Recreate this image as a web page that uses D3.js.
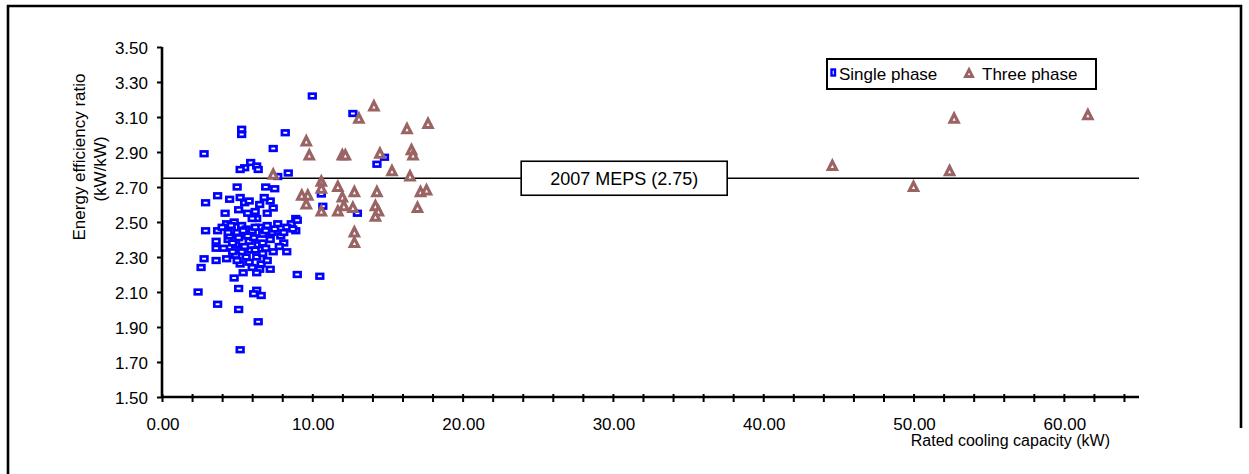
<!DOCTYPE html>
<html>
<head>
<meta charset="utf-8">
<script src="https://cdn.jsdelivr.net/npm/d3@7/dist/d3.min.js"></script>
<style>
  html, body { margin: 0; padding: 0; background: #fff; }
  svg { display: block; }
  text { font-family: "Liberation Sans", Arial, sans-serif; fill: #000; }
</style>
</head>
<body>
<svg id="chart" width="1249" height="474"></svg>
<script>
// Rated cooling capacity (kW) and EER (kW/kW) for single-phase units
const singlePhase = [
  [10.0, 3.22], [12.7, 3.12], [5.3, 3.03], [5.3, 3.00], [8.2, 3.01], [7.4, 2.92],
  [2.8, 2.89], [14.8, 2.87], [14.3, 2.83], [5.5, 2.81], [5.9, 2.84], [6.3, 2.82],
  [6.4, 2.80], [5.2, 2.80], [7.7, 2.76], [8.4, 2.78],
  [5.0, 2.70], [6.9, 2.70], [7.5, 2.69], [10.6, 2.66], [10.7, 2.59], [13.0, 2.55],
  [3.7, 2.65], [4.5, 2.63], [2.9, 2.61], [5.2, 2.64], [5.5, 2.61], [5.8, 2.62],
  [6.5, 2.60], [7.4, 2.58], [7.2, 2.62], [6.8, 2.64], [5.1, 2.57], [6.2, 2.56],
  [4.2, 2.55], [8.9, 2.52], [8.6, 2.49],
  [2.9, 2.45], [3.7, 2.45], [4.3, 2.49], [4.8, 2.50], [5.3, 2.48], [6.3, 2.52],
  [7.0, 2.48], [6.5, 2.47], [7.7, 2.49], [8.3, 2.47], [8.9, 2.45], [9.0, 2.51],
  [4.0, 2.47], [4.6, 2.45], [5.0, 2.44], [5.6, 2.46], [6.0, 2.45], [6.7, 2.43],
  [7.3, 2.44], [7.9, 2.42], [8.7, 2.46],
  [3.6, 2.39], [3.6, 2.35], [4.4, 2.40], [4.9, 2.37], [5.3, 2.33], [5.8, 2.39],
  [6.4, 2.37], [6.7, 2.38], [8.1, 2.44], [8.1, 2.38], [8.3, 2.33], [7.8, 2.36],
  [4.5, 2.42], [5.1, 2.41], [6.1, 2.41], [6.9, 2.35], [7.2, 2.40],
  [2.8, 2.29], [2.6, 2.24], [3.6, 2.28], [4.3, 2.29], [4.9, 2.31], [5.2, 2.26],
  [6.3, 2.30], [6.6, 2.26], [7.0, 2.28], [6.7, 2.32], [5.6, 2.30], [4.7, 2.33],
  [5.9, 2.34], [4.1, 2.35],
  [4.6, 2.48], [5.4, 2.45], [5.7, 2.42], [6.2, 2.47], [6.9, 2.45], [7.5, 2.46],
  [4.7, 2.38], [5.5, 2.36], [6.2, 2.34], [7.4, 2.33], [5.0, 2.28], [5.8, 2.27],
  [6.5, 2.23], [4.4, 2.44], [6.0, 2.52], [5.7, 2.55], [7.0, 2.55],
  [5.4, 2.21], [4.8, 2.18], [6.3, 2.21], [9.0, 2.20], [10.5, 2.19], [6.0, 2.24],
  [7.2, 2.23],
  [2.4, 2.10], [5.1, 2.12], [6.3, 2.11], [6.6, 2.08], [6.1, 2.09], [3.7, 2.03],
  [5.1, 2.00], [6.4, 1.93], [5.2, 1.77]
];

// Rated cooling capacity (kW) and EER (kW/kW) for three-phase units
const threePhase = [
  [14.1, 3.16], [13.1, 3.09], [17.7, 3.06], [16.3, 3.03], [9.6, 2.96], [9.8, 2.88],
  [12.0, 2.88], [12.2, 2.88], [14.5, 2.89], [16.6, 2.91], [16.7, 2.88], [15.3, 2.79],
  [16.5, 2.76], [7.4, 2.77], [10.6, 2.73], [10.6, 2.69], [11.7, 2.70], [9.3, 2.65],
  [9.7, 2.65], [12.0, 2.64], [12.8, 2.67], [14.3, 2.67], [17.2, 2.67], [17.6, 2.68],
  [9.6, 2.60], [12.1, 2.59], [10.6, 2.56], [11.7, 2.56], [12.7, 2.58], [14.2, 2.59],
  [14.4, 2.56], [17.0, 2.58], [14.2, 2.53], [12.8, 2.44], [12.8, 2.38],
  [44.6, 2.82], [52.7, 3.09], [61.6, 3.11], [52.4, 2.79], [50.0, 2.70]
];

const yTicks = [1.5, 1.7, 1.9, 2.1, 2.3, 2.5, 2.7, 2.9, 3.1, 3.3, 3.5];
const xLabelTicks = [0, 10, 20, 30, 40, 50, 60];
const xMinorTicks = d3.range(0, 65, 2);

const mepsValue = 2.75;
const mepsLabel = "2007 MEPS (2.75)";
const mepsLabelAt = 30.75;

const seriesNames = ["Single phase", "Three phase"];
const singleColor = "#0000ff";
const threeColor = "#9a6464";

const svg = d3.select("#chart");

// Frame around the chart
svg.append("path")
  .attr("d", "M8,474 L8,6 L1241,6 L1241,428")
  .attr("fill", "none")
  .attr("stroke", "#000")
  .attr("stroke-width", 2.6);

const plot = { left: 162, right: 1139, top: 47, bottom: 397 };

const x = d3.scaleLinear().domain([0, 65]).range([plot.left, plot.right]);
const y = d3.scaleLinear().domain([1.5, 3.5]).range([plot.bottom, plot.top]);

// Y axis
const yAxis = svg.append("g").attr("transform", `translate(${plot.left},0)`)
  .call(d3.axisLeft(y).tickValues(yTicks).tickFormat(d3.format(".2f"))
    .tickSize(5).tickPadding(9));
yAxis.select(".domain").attr("stroke-width", 2.6).attr("d", `M0,${plot.top}V${plot.bottom}`);
yAxis.selectAll(".tick line").attr("stroke-width", 2);
yAxis.selectAll(".tick text").attr("font-size", 17)
  .style("font-family", '"Liberation Sans", Arial, sans-serif').attr("dy", "0.36em");

// X axis: minor ticks every 2 kW, labels every 10 kW
const xAxis = svg.append("g").attr("transform", `translate(0,${plot.bottom})`)
  .call(d3.axisBottom(x).tickValues(xMinorTicks).tickFormat("").tickSize(5));
xAxis.select(".domain").attr("stroke-width", 2.6).attr("d", `M${plot.left},0H${plot.right}`);
xAxis.selectAll(".tick line").attr("stroke-width", 2).attr("y1", -3);

svg.append("g").selectAll("text")
  .data(xLabelTicks)
  .join("text")
  .attr("x", d => x(d) + 1)
  .attr("y", 430)
  .attr("text-anchor", "middle")
  .attr("font-size", 17)
  .text(d3.format(".2f"));

// Axis titles
svg.append("text")
  .attr("x", 1110).attr("y", 446)
  .attr("text-anchor", "end")
  .attr("font-size", 16)
  .text("Rated cooling capacity (kW)");

const yTitle = svg.append("text")
  .attr("transform", "translate(85,157) rotate(-90)")
  .attr("text-anchor", "middle")
  .attr("font-size", 17);
yTitle.append("tspan").attr("x", 0).attr("dy", 0).text("Energy efficiency ratio");
yTitle.append("tspan").attr("x", -12).attr("dy", 21).text("(kW/kW)");

// MEPS reference line
svg.append("line")
  .attr("x1", x(0)).attr("x2", x(65))
  .attr("y1", y(mepsValue)).attr("y2", y(mepsValue))
  .attr("stroke", "#000").attr("stroke-width", 1.6);

// Markers
const triangle = "M0,-4.6L4.1,3.5L-4.1,3.5Z";

svg.append("g").selectAll("rect")
  .data(singlePhase)
  .join("rect")
  .attr("x", d => x(d[0]) - 3.3)
  .attr("y", d => y(d[1]) - 2.3)
  .attr("width", 6.6)
  .attr("height", 4.6)
  .attr("fill", "#fff")
  .attr("stroke", singleColor)
  .attr("stroke-width", 2.7);

svg.append("g").selectAll("path")
  .data(threePhase)
  .join("path")
  .attr("transform", d => `translate(${x(d[0])},${y(d[1])})`)
  .attr("d", triangle)
  .attr("fill", "#fff")
  .attr("stroke", threeColor)
  .attr("stroke-width", 3.2)
  .attr("stroke-linejoin", "miter");

// MEPS label box
const mepsG = svg.append("g")
  .attr("transform", `translate(${x(mepsLabelAt)},${y(mepsValue)})`);
mepsG.append("rect")
  .attr("x", -103).attr("y", -17).attr("width", 206).attr("height", 34)
  .attr("fill", "#fff").attr("stroke", "#000").attr("stroke-width", 1.6);
mepsG.append("text")
  .attr("text-anchor", "middle").attr("dy", "0.36em")
  .attr("font-size", 18)
  .text(mepsLabel);

// Legend
const legend = svg.append("g");
legend.append("rect")
  .attr("x", 827).attr("y", 59).attr("width", 269).attr("height", 30)
  .attr("fill", "#fff").attr("stroke", "#000").attr("stroke-width", 2);
legend.append("rect")
  .attr("x", 831.5).attr("y", 69.5).attr("width", 3.5).attr("height", 6)
  .attr("fill", "#fff").attr("stroke", singleColor).attr("stroke-width", 2.4);
legend.append("text").attr("x", 839).attr("y", 80).attr("font-size", 17).text(seriesNames[0]);
legend.append("path")
  .attr("transform", "translate(969,73.5)")
  .attr("d", "M0,-4L3.6,3L-3.6,3Z")
  .attr("fill", "#fff").attr("stroke", threeColor).attr("stroke-width", 2.8);
legend.append("text").attr("x", 982).attr("y", 80).attr("font-size", 17).text(seriesNames[1]);
</script>
</body>
</html>
